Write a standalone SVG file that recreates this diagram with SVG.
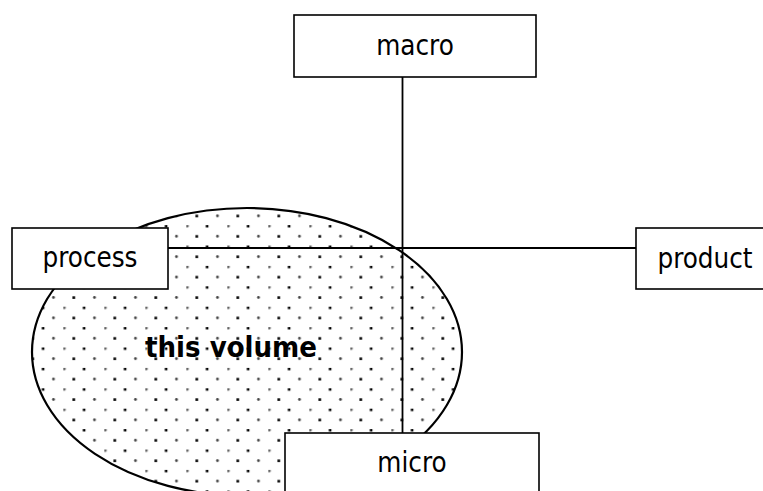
<svg xmlns="http://www.w3.org/2000/svg" width="763" height="491" viewBox="0 0 763 491">
<style>
.box{fill:#fff;stroke:#000;stroke-width:1.6}
.lbl{font-family:"DejaVu Sans Condensed","DejaVu Sans",Verdana,sans-serif;font-stretch:condensed;font-size:27.5px;fill:#000;text-anchor:middle}
.conn{stroke:#000;stroke-width:1.8;fill:none}
</style>
<defs>
<pattern id="dots" patternUnits="userSpaceOnUse" x="22.3" y="0.7" width="41" height="20.4">
<circle cx="1" cy="1" r="1.5" fill="#666"/>
<rect x="19.5" y="-0.2" width="2.6" height="2.6" fill="#000"/>
<rect x="9.2" y="10" width="2.6" height="2.6" fill="#000"/>
<circle cx="31.2" cy="11.2" r="1.4" fill="#444"/>
</pattern>
</defs>
<rect width="763" height="491" fill="#fff"/>
<g id="volume">
<ellipse cx="247" cy="352" rx="215" ry="144" fill="url(#dots)" stroke="#000" stroke-width="2.2"/>
<text x="231" y="357" class="lbl" style="font-weight:bold;font-size:29px">this volume</text>
</g>
<g id="connectors">
<line class="conn" x1="402.5" y1="77" x2="402.5" y2="433"/>
<line class="conn" x1="168" y1="248" x2="636" y2="248"/>
</g>
<g id="macro">
<rect class="box" x="294" y="15" width="242" height="62"/>
<text class="lbl" x="415" y="55">macro</text>
</g>
<g id="process">
<rect class="box" x="12" y="228" width="156" height="61"/>
<text class="lbl" x="90" y="267">process</text>
</g>
<g id="product">
<rect class="box" x="636" y="228" width="140" height="61"/>
<text class="lbl" x="705" y="268">product</text>
</g>
<g id="micro">
<rect class="box" x="285" y="433" width="254" height="70"/>
<text class="lbl" x="412" y="472">micro</text>
</g>
</svg>
